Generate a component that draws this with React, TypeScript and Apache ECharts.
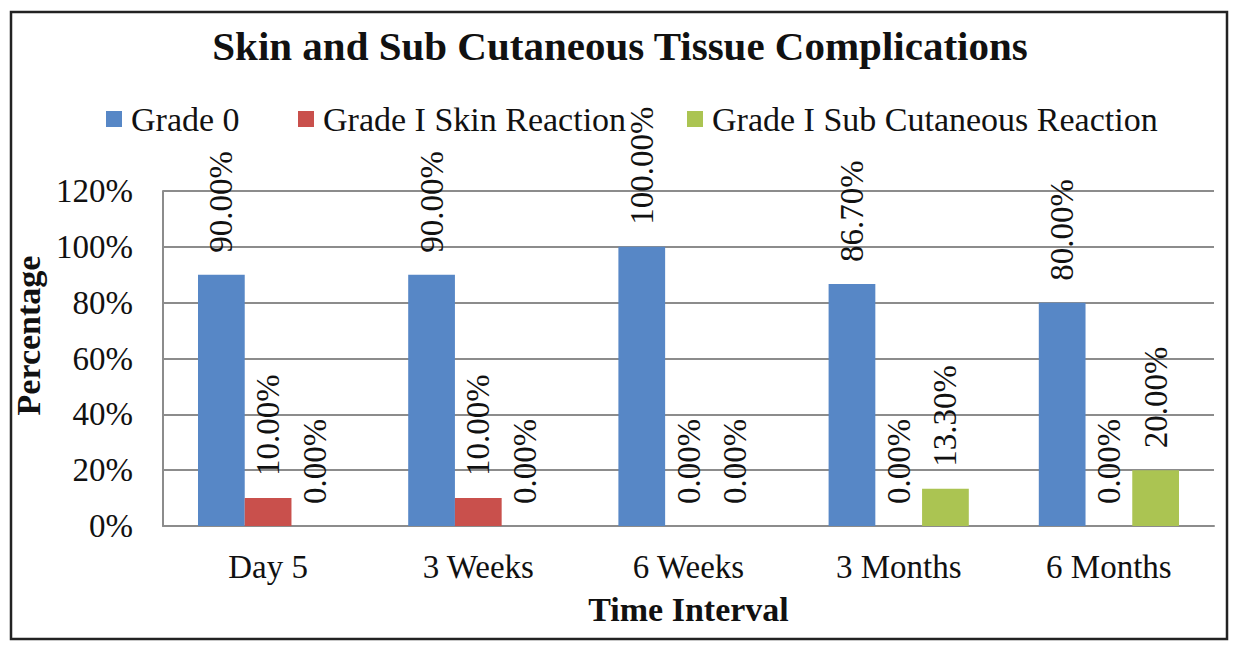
import React, { useEffect, useRef } from "react";
import * as echarts from "echarts";

const categories = ["Day 5", "3 Weeks", "6 Weeks", "3 Months", "6 Months"];
const grade0 = [90, 90, 100, 86.7, 80];
const gradeISkin = [10, 10, 0, 0, 0];
const gradeISub = [0, 0, 0, 13.3, 20];
const seriesNames = ["Grade 0", "Grade I Skin Reaction", "Grade I Sub Cutaneous Reaction"];
const colors = ["#5787C6", "#C9504C", "#ABC452"];
const legendLefts = [106, 298, 687];

const FONT = "Liberation Serif, Times New Roman, serif";

export default function App() {
  const ref = useRef<HTMLDivElement>(null);
  useEffect(() => {
    if (!ref.current) return;
    const chart = echarts.init(ref.current, undefined, { renderer: "svg" });
    const label = {
      show: true,
      position: "top",
      distance: 22,
      rotate: 90,
      align: "left",
      verticalAlign: "middle",
      color: "#111",
      fontFamily: FONT,
      fontSize: 33,
      formatter: (p: any) => Number(p.value).toFixed(2) + "%",
    };
    const mk = (name: string, data: number[], color: string) => ({
      name,
      type: "bar",
      data,
      barGap: "0%",
      barCategoryGap: "33.3%",
      itemStyle: { color },
      label,
    });
    chart.setOption({
      animation: false,
      backgroundColor: "#fff",
      textStyle: { fontFamily: FONT },
      title: {
        text: "Skin and Sub Cutaneous Tissue Complications",
        left: "center",
        top: 20,
        textStyle: { fontFamily: FONT, fontSize: 41, fontWeight: "bold", color: "#111" },
      },
      legend: seriesNames.map((n, i) => ({
        left: legendLefts[i],
        top: 102,
        padding: 0,
        itemWidth: 16,
        itemHeight: 16,
        icon: "rect",
        textStyle: { fontFamily: FONT, fontSize: 34, color: "#111", padding: [0, 0, 0, 4] },
        data: [n],
      })),
      grid: { left: 163, right: 26, top: 191, bottom: 127 },
      xAxis: {
        type: "category",
        data: categories,
        name: "Time Interval",
        nameLocation: "middle",
        nameGap: 66,
        nameTextStyle: { fontFamily: FONT, fontSize: 34, fontWeight: "bold", color: "#111" },
        axisLine: { lineStyle: { color: "#8c8c8c", width: 2 } },
        axisTick: { show: false },
        axisLabel: { fontFamily: FONT, fontSize: 33, color: "#111", margin: 24 },
      },
      yAxis: {
        type: "value",
        min: 0,
        max: 120,
        interval: 20,
        name: "Percentage",
        nameLocation: "middle",
        nameGap: 100,
        nameTextStyle: { fontFamily: FONT, fontSize: 34, fontWeight: "bold", color: "#111", padding: [0, 0, 0, 46] },
        axisLine: { show: true, lineStyle: { color: "#8c8c8c", width: 2 } },
        axisTick: { show: false },
        axisLabel: { fontFamily: FONT, fontSize: 33, color: "#111", margin: 30, formatter: "{value}%" },
        splitLine: { lineStyle: { color: "#8c8c8c", width: 2 } },
      },
      graphic: [
        {
          type: "rect",
          shape: { x: 11, y: 12, width: 1216, height: 627 },
          style: { fill: "none", stroke: "#222", lineWidth: 2.5 },
          silent: true,
        },
      ],
      series: [
        mk(seriesNames[0], grade0, colors[0]),
        mk(seriesNames[1], gradeISkin, colors[1]),
        mk(seriesNames[2], gradeISub, colors[2]),
      ],
    });
    return () => chart.dispose();
  }, []);
  return <div ref={ref} style={{ width: 1240, height: 653, position: "absolute", left: 0, top: 0 }} />;
}
